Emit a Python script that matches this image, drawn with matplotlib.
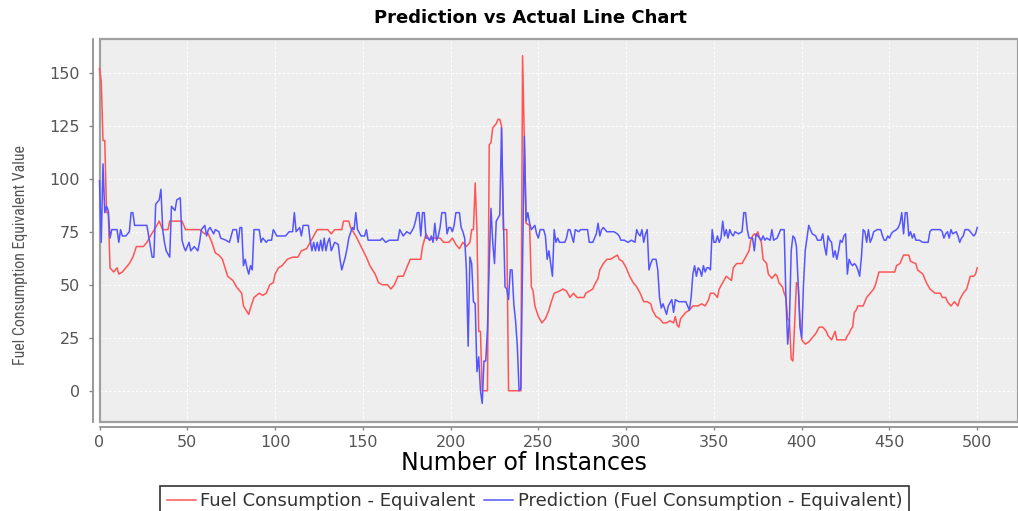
import matplotlib
matplotlib.use("Agg")
import matplotlib.pyplot as plt
from matplotlib.patches import Rectangle
from matplotlib import font_manager

# ---------------- data ----------------
actual_x = [0, 1, 2, 3, 4, 5, 6, 8, 10, 11, 13, 15, 17, 19, 21, 25, 27, 29, 32, 34, 36, 39, 40, 47, 49,
            57, 60, 62, 64, 66, 68, 70, 73, 76, 78, 81, 82, 85, 86, 88, 91, 93, 95, 97,
            99, 100, 102, 104, 105, 107, 110, 113, 115, 118, 120, 122, 124, 130, 132, 134, 138, 139,
            142, 143, 146, 149, 152, 154, 157, 159, 161, 164, 166, 168, 170, 173, 175, 177, 183, 184,
            186, 188, 190, 194,
            196, 199, 201, 203, 205, 207, 209, 211, 212, 213, 214, 215, 216, 217, 218, 221, 222, 223,
            224, 226, 227, 228, 229, 230, 232, 233, 240, 241, 242, 243, 245, 246, 247, 248, 250, 252,
            254, 256, 257, 259, 262, 264, 266, 268,
            270, 272, 276, 277, 279, 281, 282, 284, 285, 287, 289, 291, 293, 295, 296, 298, 300, 302,
            304, 306, 308, 310, 312, 314, 315, 317, 319, 321, 323, 325, 327, 328, 329, 330, 331, 333,
            334, 336, 338, 341, 343, 345, 347, 348, 350, 352, 353, 355, 357, 360, 361, 363,
            366, 368, 370, 371, 372, 373, 374, 375, 376, 377, 378, 380, 381, 382, 383, 384, 385, 386,
            387, 388, 389, 390, 391, 392, 393, 394, 395, 396, 397, 398, 399, 400, 402, 404, 406, 408,
            410, 412, 414, 415, 417, 418, 419, 420, 422, 425, 426, 427, 428, 429, 430, 431, 432, 433, 435,
            436, 437, 439, 441, 442, 443, 444, 453, 454, 456, 457, 458, 461, 462, 465, 466, 469, 471,
            473, 476, 479, 480, 482, 483, 485, 487, 489, 490, 492, 494, 495, 496, 498, 499, 500]
actual_y = [152, 146, 118, 118, 84, 84, 58, 56, 58, 55, 56, 58, 60, 63, 68, 68, 70, 73, 77, 80, 76, 76, 80, 80, 76,
            76, 74, 74, 70, 65, 64, 62, 54, 52, 49, 46, 40, 36, 39, 44, 46, 45, 46, 50,
            51, 55, 58, 59, 60, 62, 63, 63, 66, 67, 70, 73, 76, 76, 74, 76, 76, 80,
            80, 77, 73, 68, 63, 59, 55, 51, 50, 50, 48, 50, 54, 54, 58, 62, 62, 68,
            74, 71, 72, 72,
            70, 70, 72, 69, 67, 70, 68, 70, 76, 76, 98, 76, 28, 28, 0, 0, 116, 117,
            124, 126, 128, 128, 125, 76, 76, 0, 0, 158, 118, 79, 78, 49, 47, 40, 35, 32,
            34, 38, 41, 46, 47, 48, 47, 44,
            46, 44, 44, 46, 47, 48, 50, 53, 57, 60, 62, 62, 63, 64, 62, 61, 58, 54,
            51, 49, 46, 42, 42, 41, 38, 35, 34, 32, 32, 33, 32, 35, 31, 30, 34, 36,
            37, 38, 40, 40, 41, 40, 43, 46, 46, 44, 48, 51, 54, 52, 58, 60,
            60, 63, 66, 71, 73, 74, 73, 75, 72, 70, 62, 60, 55, 54, 53, 54, 55, 54,
            51, 50, 49, 46, 44, 34, 33, 15, 14, 33, 51, 50, 34, 24, 22, 23, 25, 27,
            30, 30, 28, 26, 24, 26, 28, 24, 24, 24, 26, 27, 29, 30, 37, 38, 40, 40, 40,
            42, 44, 46, 48, 50, 53, 56, 56, 59, 60, 62, 64, 64, 61, 60, 57, 55, 51,
            48, 46, 46, 44, 44, 42, 40, 42, 40, 43, 46, 48, 51, 54, 54, 55, 58]

pred_x = [0, 1, 2, 3, 4, 5, 6, 7, 10, 11, 12, 13, 15, 17, 18, 19, 20, 27, 28, 29, 30, 31, 32, 34, 35, 36,
          37, 38, 40, 41, 43, 44, 46, 47, 48, 49, 51, 52, 54, 56, 57, 58, 60, 61, 62, 63, 65, 66, 68,
          69, 72, 74, 76, 78, 79, 80, 81, 82, 83, 84, 85, 86, 87, 88, 91,
          92, 93, 95, 96, 98, 99, 101, 106, 108, 110, 111, 112, 114, 115, 116, 119, 120, 121, 122,
          123, 124, 125, 126, 127, 128, 129, 130, 131, 132, 134, 136, 137, 138, 140, 141, 142, 144,
          145, 146, 147, 149, 151, 152, 153, 157, 160, 161, 163, 165, 167, 170, 171, 173, 175, 177,
          179, 180, 181, 182, 183, 184, 185, 186, 187,
          188, 189, 190, 191, 192, 193, 194, 195, 197, 198, 199, 200, 201, 202, 203, 205, 206, 207,
          208, 209, 210, 211, 212, 213, 214, 215, 216, 217, 218, 219, 220, 221, 222, 223, 224, 225,
          226, 228, 229, 230, 231, 232, 233, 234, 235, 236, 237, 238, 239, 240, 242, 243, 244, 245,
          246, 247, 248, 249, 250, 251, 253, 254, 255, 256, 257, 258, 259, 260, 261, 262, 265, 266,
          267, 268,
          270, 271, 273, 274, 278, 279, 281, 282, 283, 284, 285, 286, 287, 289, 293, 295, 296, 297,
          299, 301, 303, 305, 306, 307, 308, 309, 310, 311, 312, 313, 314, 315, 317, 318, 319, 320,
          321, 323, 324, 326, 327, 328, 330, 334, 335, 336, 337, 338, 339, 340, 341, 342, 343, 344,
          345, 346, 347, 348, 349, 350, 351, 352, 353, 354, 355, 356, 357, 358,
          359, 360, 361, 362, 364, 366, 367, 368, 369, 370, 372, 373, 374, 375, 376, 377, 378, 379,
          380, 382, 383, 384, 386, 387, 388, 390, 391, 392, 393, 394, 395, 396, 397, 398, 399, 400,
          401, 402, 403, 404, 406, 408, 409, 411, 412, 413, 414, 415, 416, 417, 418, 419, 420, 421,
          422, 423, 424, 425, 426, 427, 428, 429, 430, 431, 432, 433, 434, 435, 436, 437, 438, 439,
          440, 441, 443, 445, 446, 447, 448, 449, 450, 451, 452, 454, 455, 456, 457, 458, 459, 460,
          461, 462, 463, 464, 465, 467, 469, 470, 472, 473, 474, 479, 480, 481, 482, 483, 484, 485,
          486, 488, 489, 490, 491, 492, 493, 495, 496, 497, 498, 499, 500]
pred_y = [99, 70, 107, 84, 87, 85, 72, 76, 76, 70, 76, 73, 73, 75, 84, 84, 78, 78, 73, 68, 63, 63, 88, 90, 95, 76,
          70, 66, 63, 87, 85, 90, 91, 71, 68, 66, 70, 66, 68, 66, 70, 76, 78, 73, 76, 77, 74, 76, 75,
          72, 71, 70, 76, 76, 70, 77, 77, 59, 62, 58, 55, 59, 57, 76, 76,
          70, 72, 70, 71, 71, 76, 73, 73, 75, 75, 84, 75, 77, 73, 78, 78, 71, 66, 70,
          66, 70, 66, 71, 66, 72, 66, 70, 72, 66, 70, 69, 62, 57, 63, 67, 72, 77,
          76, 84, 76, 73, 73, 76, 71, 71, 71, 72, 70, 71, 71, 71, 76, 73, 75, 74,
          77, 80, 84, 84, 73, 84, 84, 72, 72,
          71, 73, 70, 79, 71, 73, 77, 84, 84, 74, 77, 77, 75, 78, 84, 84, 77, 75,
          72, 57, 21, 63, 60, 42, 41, 9, 16, 0, -6, 14, 14, 29, 60, 86, 70, 60,
          80, 83, 124, 84, 49, 48, 43, 57, 57, 41, 33, 21, 0, 1, 120, 80, 84, 79,
          76, 77, 78, 74, 72, 76, 76, 73, 62, 66, 60, 54, 76, 70, 72, 70, 70, 72,
          76, 76,
          70, 76, 75, 76, 76, 70, 70, 72, 74, 79, 73, 76, 77, 75, 75, 74, 73, 71,
          71, 70, 71, 70, 76, 74, 73, 76, 70, 74, 76, 57, 60, 62, 62, 57, 44, 39,
          41, 36, 40, 43, 37, 43, 42, 42, 40, 38, 44, 55, 59, 54, 58, 57, 54, 59,
          56, 58, 58, 57, 76, 70, 70, 73, 70, 72, 80, 73, 76, 72,
          76, 74, 73, 75, 74, 75, 84, 84, 76, 72, 72, 66, 74, 73, 72, 71, 73, 71,
          72, 71, 76, 71, 72, 74, 76, 76, 44, 22, 33, 66, 73, 72, 68, 50, 30, 25,
          50, 66, 72, 78, 74, 73, 71, 71, 74, 68, 64, 73, 71, 70, 63, 66, 62, 66,
          71, 70, 73, 74, 55, 62, 60, 59, 60, 59, 57, 54, 63, 76, 75, 70, 76, 70,
          72, 75, 76, 76, 73, 71, 71, 73, 72, 74, 75, 76, 77, 79, 84, 74, 84, 84,
          73, 75, 72, 74, 71, 71, 70, 70, 70, 75, 76, 76, 75, 72, 74, 75, 72, 76,
          74, 75, 73, 70, 72, 73, 76, 76, 75, 74, 73, 74, 77]

x_ticks = [0, 50, 100, 150, 200, 250, 300, 350, 400, 450, 500]
y_ticks = [0, 25, 50, 75, 100, 125, 150]
title_text = "Prediction vs Actual Line Chart"
x_label = "Number of Instances"
y_label = "Fuel Consumption Equivalent Value"
actual_label = "Fuel Consumption - Equivalent"
pred_label = "Prediction (Fuel Consumption - Equivalent)"

# ---------------- styling ----------------
avail = {f.name for f in font_manager.fontManager.ttflist}
narrow = "DejaVu Sans"
for cand in ["Liberation Sans Narrow", "Roboto Condensed", "DejaVu Sans Condensed",
             "Open Sans Condensed", "Noto Sans Condensed"]:
    if cand in avail:
        narrow = cand
        break

W, H = 1018, 511
fig = plt.figure(figsize=(W / 100, H / 100), dpi=100)
fig.patch.set_facecolor("white")

ax_l, ax_r, ax_t, ax_b = 99.5, 1018, 39, 421.7
ax = fig.add_axes([ax_l / W, 1 - ax_b / H, (ax_r - ax_l) / W, (ax_b - ax_t) / H])
ax.set_facecolor("#EEEEEE")

ax.plot(actual_x, actual_y, color="#FF5555", lw=1.1, label=actual_label, zorder=5,
        clip_on=False)
ax.plot(pred_x, pred_y, color="#5555FF", lw=1.1, label=pred_label, zorder=5,
        clip_on=False)

ax.set_xlim(0, 523.2)
ax.set_ylim(-14.6, 165.9)
ax.set_xticks(x_ticks)
ax.set_yticks(y_ticks)
ax.grid(True, color="white", linestyle=(0, (2, 2)), lw=0.8, zorder=1)
ax.set_axisbelow(True)

for s in ["top", "right"]:
    ax.spines[s].set_visible(False)
ax.spines["left"].set_position(("outward", 5))
ax.spines["bottom"].set_position(("outward", 3.7))
for s in ["left", "bottom"]:
    ax.spines[s].set_color("#888888")
    ax.spines[s].set_linewidth(1.2)

# plot outline
ax.add_patch(Rectangle((0, 0), 1, 1, transform=ax.transAxes, fill=False,
                       edgecolor="#A0A0A0", lw=1.6, clip_on=False, zorder=4))

ax.tick_params(axis="y", colors="#888888", labelcolor="#555555", length=3, width=1,
               labelsize=11.5, pad=6)
ax.tick_params(axis="x", colors="#888888", labelcolor="#555555", length=2.5, width=1,
               labelsize=11.5, pad=3.5)

fig.text(530 / W, 1 - 18 / H, title_text, ha="center", va="center", fontsize=13,
         fontweight="bold", family="DejaVu Sans")
fig.text(524 / W, 1 - 463 / H, x_label, ha="center", va="center", fontsize=17,
         family="DejaVu Sans")
ylab = fig.text(21 / W, 1 - 255 / H, y_label, ha="center", va="center", fontsize=11,
                rotation=90, family=narrow, color="#555555")
# fit the rotated label to its length in the reference (about 220 px)
fig.canvas.draw()
r = fig.canvas.get_renderer()
h = ylab.get_window_extent(r).height
ylab.set_fontsize(11 * 220 / h)

leg = fig.legend(loc="upper center", bbox_to_anchor=(534.5 / W, 1 - 486 / H), ncol=2,
                 frameon=True, fancybox=False, edgecolor="black",
                 prop={"family": "DejaVu Sans", "size": 13}, handlelength=1.6,
                 handletextpad=0.25, columnspacing=0.5, borderpad=0.35,
                 borderaxespad=0)
leg.get_frame().set_linewidth(1.2)
for t in leg.get_texts():
    t.set_color("#333333")

fig.savefig("out.png", dpi=100)
